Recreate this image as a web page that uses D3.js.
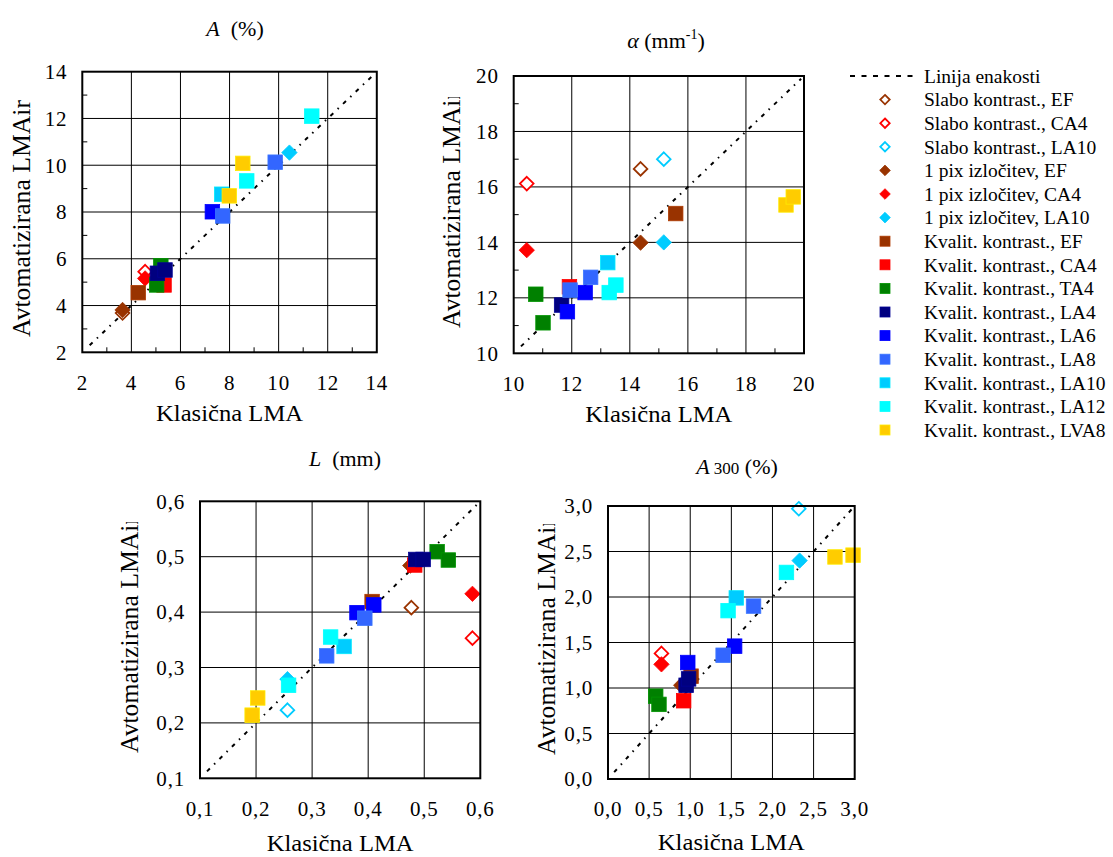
<!DOCTYPE html>
<html><head><meta charset="utf-8">
<script src="https://cdn.jsdelivr.net/npm/d3@7"></script>
<style>
body{margin:0;background:#fff;}
</style>
</head><body>
<svg id="c" width="1113" height="857"></svg>
<script>
// ---------- DATA ----------
const seriesNames = [
  "Slabo kontrast., EF", "Slabo kontrast., CA4", "Slabo kontrast., LA10",
  "1 pix izločitev, EF", "1 pix izločitev, CA4", "1 pix izločitev, LA10",
  "Kvalit. kontrast., EF", "Kvalit. kontrast., CA4", "Kvalit. kontrast., TA4",
  "Kvalit. kontrast., LA4", "Kvalit. kontrast., LA6", "Kvalit. kontrast., LA8",
  "Kvalit. kontrast., LA10", "Kvalit. kontrast., LA12", "Kvalit. kontrast., LVA8"
];
const seriesColors = ["#993300","#FF0000","#00CCFF","#993300","#FF0000","#00CCFF",
  "#993300","#FF0000","#008000","#000080","#0000FF","#3366FF","#00CCFF","#00FFFF","#FFCC00"];
const seriesShapes = ["open","open","open","diamond","diamond","diamond",
  "square","square","square","square","square","square","square","square","square"];
const equalityLabel = "Linija enakosti";

// [series index, Klasična LMA, Avtomatizirana LMAir]
const dataA = [
  [0,3.64,3.68],[1,4.56,5.45],[3,3.64,3.81],[4,4.56,5.16],[5,10.44,10.54],
  [6,4.28,4.55],[7,5.33,4.88],[8,5.03,4.88],[8,5.2,5.7],[9,5.06,5.38],[9,5.37,5.52],
  [10,7.3,8.01],[11,7.72,7.83],[11,9.86,10.13],[12,7.68,8.76],[13,8.7,9.33],[13,11.35,12.1],
  [14,8.54,10.08],[14,7.99,8.69]
];
const dataAlpha = [
  [0,14.37,16.65],[1,10.45,16.12],[2,15.17,17.0],[3,14.37,13.99],[4,10.45,13.72],[5,15.17,14.0],
  [6,15.58,15.04],[7,11.92,12.4],[8,10.76,12.13],[8,11.01,11.1],[9,11.65,11.74],
  [10,11.85,11.5],[10,12.46,12.19],[11,11.94,12.28],[11,12.65,12.74],[12,13.24,13.27],
  [13,13.29,12.19],[13,13.52,12.46],[14,19.38,15.35],[14,19.63,15.64]
];
const dataL = [
  [0,0.477,0.408],[1,0.586,0.353],[2,0.256,0.223],[3,0.475,0.484],[4,0.586,0.433],[5,0.256,0.279],
  [6,0.407,0.419],[7,0.483,0.485],[8,0.523,0.509],[8,0.543,0.494],[9,0.485,0.495],[9,0.498,0.495],
  [10,0.380,0.399],[10,0.410,0.413],[11,0.326,0.321],[11,0.394,0.389],[12,0.357,0.338],
  [13,0.258,0.268],[13,0.333,0.355],[14,0.193,0.214],[14,0.203,0.245]
];
const dataA300 = [
  [1,0.65,1.38],[2,2.32,2.97],[3,0.89,1.03],[4,0.65,1.26],[5,2.33,2.40],
  [6,1.01,1.13],[7,0.92,0.86],[8,0.58,0.91],[8,0.62,0.82],[9,0.95,1.03],[9,0.98,1.10],
  [10,0.97,1.28],[10,1.54,1.46],[11,1.40,1.36],[11,1.77,1.90],[12,1.56,1.99],
  [13,1.46,1.85],[13,2.17,2.27],[14,2.76,2.44],[14,2.98,2.46]
];
const ticksA = [2,4,6,8,10,12,14];
const ticksAlpha = [10,12,14,16,18,20];
const ticksL = [0.1,0.2,0.3,0.4,0.5,0.6];
const ticksA300 = [0,0.5,1.0,1.5,2.0,2.5,3.0];
const minorA = [3,5,7,9,11,13];
const minorAlpha = [11,13,15,17,19];
const xLabel = "Klasična LMA";
const yLabel = "Avtomatizirana LMAir";

// ---------- LAYOUT ----------
const FONT = "Liberation Serif";
const svg = d3.select("#c").attr("font-family", FONT);
const commaFmt = d => d3.format(".1f")(d).replace(".", ",");
const intFmt = d => String(d);

const panels = [
  {data:dataA, ticks:ticksA, minor:minorA, fmt:intFmt, l:82.3, r:376.8, t:71.7, b:352.3,
   title:[{t:"A",i:true},{t:"  (%)"}], titleX:235, titleY:36, yLabX:22, yLabStart:337, clip:false, xLabDY:60},
  {data:dataAlpha, ticks:ticksAlpha, minor:minorAlpha, fmt:intFmt, l:513.7, r:804, t:76, b:353.3,
   title:[{t:"α",i:true},{t:" (mm"},{t:"-1",sup:true},{t:")"}], titleX:666, titleY:48, yLabX:452, yLabStart:328, clip:true, xLabDY:60},
  {data:dataL, ticks:ticksL, minor:[], fmt:commaFmt, l:200, r:480.3, t:501.3, b:778.3,
   title:[{t:"L",i:true},{t:"  (mm)"}], titleX:345, titleY:466, yLabX:130, yLabStart:753, clip:true, xLabDY:64},
  {data:dataA300, ticks:ticksA300, minor:[], fmt:commaFmt, l:608, r:854.7, t:506, b:779,
   title:[{t:"A",i:true},{t:" 300",small:true},{t:" (%)"}], titleX:737, titleY:474, yLabX:547, yLabStart:755, clip:true, xLabDY:63}
];

const defs = svg.append("defs");

function drawMarker(g, shape, color, cx, cy, s) {
  if (shape === "square") {
    g.append("rect").attr("x", cx - s/2).attr("y", cy - s/2).attr("width", s).attr("height", s)
      .attr("fill", color).attr("stroke", d3.color(color).brighter(0.4)).attr("stroke-width", 0.8);
  } else {
    const h = shape === "open" ? s*0.47 : s*0.53;
    const pts = [[cx,cy-h],[cx+h,cy],[cx,cy+h],[cx-h,cy]];
    g.append("path").attr("d", d3.line()(pts) + "Z")
      .attr("fill", shape === "open" ? "#fff" : color)
      .attr("stroke", color).attr("stroke-width", shape === "open" ? 1.8 : 0.8);
  }
}

panels.forEach((p, pi) => {
  const d0 = p.ticks[0], d1 = p.ticks[p.ticks.length-1];
  const x = d3.scaleLinear().domain([d0,d1]).range([p.l,p.r]);
  const y = d3.scaleLinear().domain([d0,d1]).range([p.b,p.t]);
  const g = svg.append("g");

  // grid
  g.append("g").selectAll("line").data(p.ticks.slice(1,-1)).join("line")
    .attr("x1", d=>x(d)).attr("x2", d=>x(d)).attr("y1", p.t).attr("y2", p.b)
    .attr("stroke","#000").attr("stroke-width",1);
  g.append("g").selectAll("line").data(p.ticks.slice(1,-1)).join("line")
    .attr("y1", d=>y(d)).attr("y2", d=>y(d)).attr("x1", p.l).attr("x2", p.r)
    .attr("stroke","#000").attr("stroke-width",1);
  // minor ticks
  g.append("g").selectAll("line").data(p.minor).join("line")
    .attr("x1", d=>x(d)).attr("x2", d=>x(d)).attr("y1", p.b).attr("y2", p.b-5)
    .attr("stroke","#000").attr("stroke-width",1);
  g.append("g").selectAll("line").data(p.minor).join("line")
    .attr("y1", d=>y(d)).attr("y2", d=>y(d)).attr("x1", p.l).attr("x2", p.l+5)
    .attr("stroke","#000").attr("stroke-width",1);

  // equality line
  const e0 = d0 + (d1-d0)*0.025, e1 = d1 - (d1-d0)*0.01;
  g.append("line").attr("x1", x(e0)).attr("y1", y(e0)).attr("x2", x(e1)).attr("y2", y(e1))
    .attr("stroke","#000").attr("stroke-width",2).attr("stroke-dasharray","4,6,1.5,6");

  // markers
  const mg = g.append("g");
  p.data.forEach(d => drawMarker(mg, seriesShapes[d[0]], seriesColors[d[0]], x(d[1]), y(d[2]), 14.5));

  // border
  g.append("rect").attr("x", p.l).attr("y", p.t).attr("width", p.r-p.l).attr("height", p.b-p.t)
    .attr("fill","none").attr("stroke","#000").attr("stroke-width",2);

  // tick labels
  g.append("g").selectAll("text").data(p.ticks).join("text")
    .attr("x", p.l - 15).attr("y", d=>y(d)).attr("dy","0.35em").attr("text-anchor","end")
    .attr("font-size", 21).attr("letter-spacing", 0.8).text(p.fmt);
  g.append("g").selectAll("text").data(p.ticks).join("text")
    .attr("x", d=>x(d)).attr("y", p.b + 30).attr("dy","0.35em").attr("text-anchor","middle")
    .attr("font-size", 21).attr("letter-spacing", 0.8).text(p.fmt);

  // x label
  g.append("text").attr("x", (p.l+p.r)/2).attr("y", p.b + p.xLabDY).attr("dy","0.35em")
    .attr("text-anchor","middle").attr("font-size", 24).attr("textLength", 147)
    .attr("lengthAdjust","spacingAndGlyphs").text(xLabel);

  // y label (wrapped in a clipped group)
  const yg = g.append("g");
  if (p.clip) {
    const id = "clip" + pi;
    defs.append("clipPath").attr("id", id).append("rect")
      .attr("x", p.yLabX - 30).attr("y", p.yLabStart - 231).attr("width", 60).attr("height", 260);
    yg.attr("clip-path", `url(#${id})`);
  }
  yg.append("text").attr("transform", `translate(${p.yLabX + 8},${p.yLabStart}) rotate(-90)`)
    .attr("text-anchor","start").attr("font-size", 25)
    .attr("textLength", 237).attr("lengthAdjust","spacingAndGlyphs").text(yLabel);

  // title
  const tt = g.append("text").attr("x", p.titleX).attr("y", p.titleY).attr("text-anchor","middle").attr("font-size", 22)
    .style("white-space","pre");
  let prevSup = false;
  p.title.forEach(s => {
    const ts = tt.append("tspan").text(s.t);
    if (s.i) ts.attr("font-style","italic");
    if (s.sup) ts.attr("font-size", 14).attr("dy", -9);
    else if (s.small) ts.attr("font-size", 17);
    if (prevSup) ts.attr("dy", 9);
    prevSup = !!s.sup;
  });
});

// ---------- LEGEND ----------
const lg = svg.append("g");
const rowY = i => 76 + i * 23.6;
lg.append("line").attr("x1", 850).attr("x2", 917).attr("y1", rowY(0)).attr("y2", rowY(0))
  .attr("stroke","#000").attr("stroke-width",2).attr("stroke-dasharray","5,6.5");
lg.append("text").attr("x", 924).attr("y", rowY(0)).attr("dy","0.35em").attr("font-size", 19.5).text(equalityLabel);
seriesNames.forEach((n, i) => {
  const yy = rowY(i+1);
  drawMarker(lg, seriesShapes[i], seriesColors[i], 885, yy, 10);
  lg.append("text").attr("x", 924).attr("y", yy).attr("dy","0.35em").attr("font-size", 19.5).text(n);
});
</script>
</body></html>
